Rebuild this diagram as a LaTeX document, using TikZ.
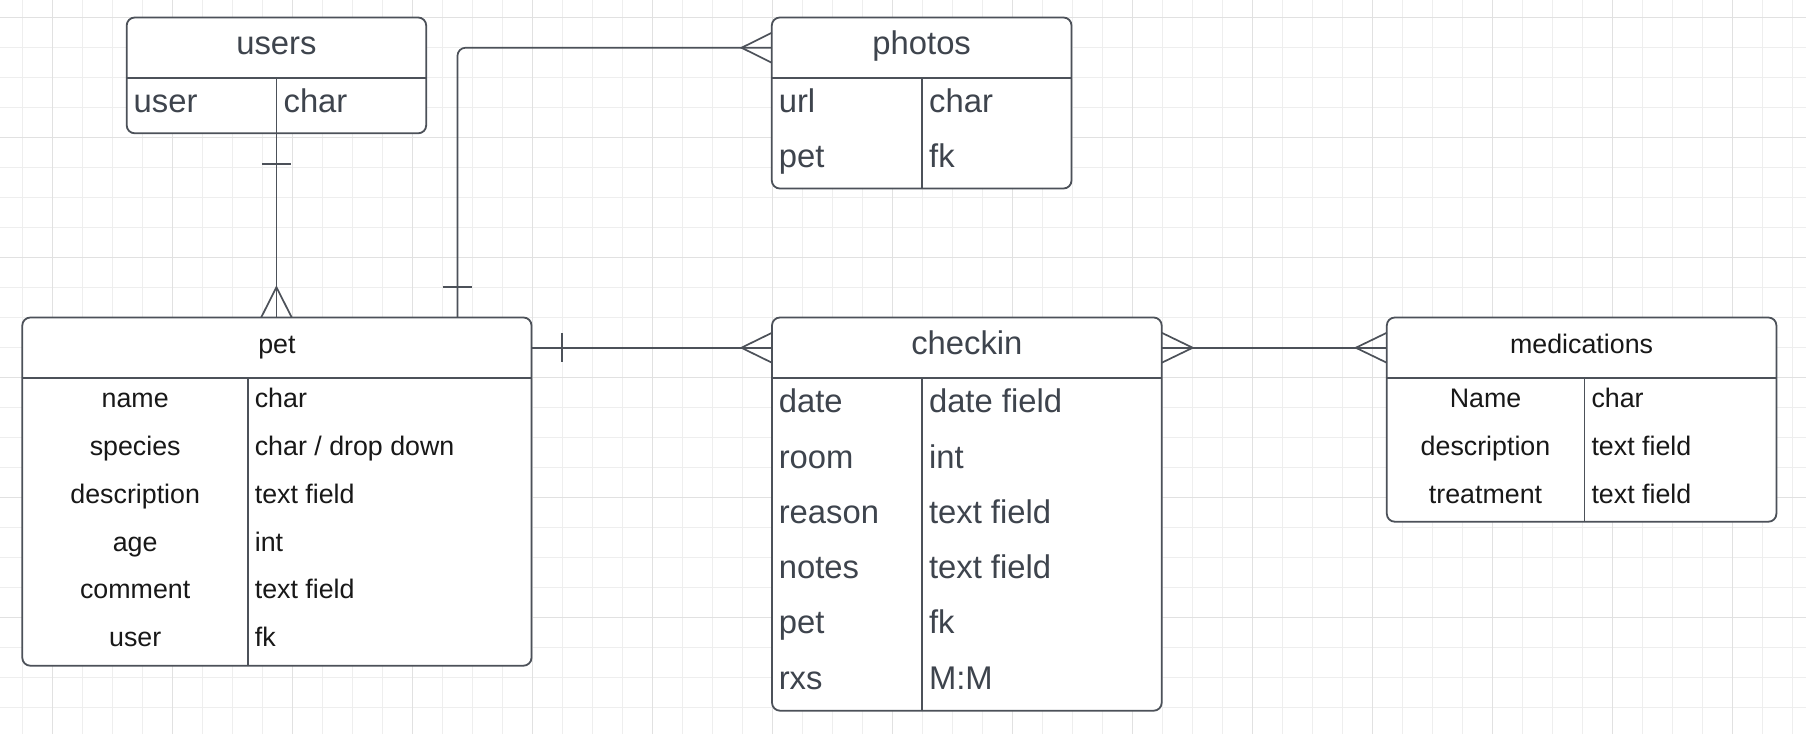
\documentclass[tikz,border=0pt]{standalone}
\usepackage{fontspec}
\setmainfont{Liberation Sans}
\usetikzlibrary{calc}
\definecolor{edge}{RGB}{76,81,89}
\definecolor{gtext}{RGB}{62,68,77}
\definecolor{btext}{RGB}{24,24,24}
\definecolor{gridminor}{RGB}{238,238,238}
\definecolor{gridmajor}{RGB}{225,225,225}
\tikzset{
  tbl/.style={draw=edge, line width=1.8, fill=white, rounded corners=8, inner sep=0, outer sep=0, anchor=north west},
  hdr/.style={inner sep=0, outer sep=0, anchor=north west, draw=none},
  sepline/.style={draw=edge, line width=1.6},
  conn/.style={draw=edge, line width=1.7},
  gtxt/.style={text=gtext, font=\fontsize{32.8}{39}\selectfont, inner sep=0, outer sep=0},
  btxt/.style={text=btext, font=\fontsize{26.8}{32}\selectfont, inner sep=0, outer sep=0},
}
\begin{document}
\begin{tikzpicture}[x=1pt,y=-1pt]
\fill[white] (0,0) rectangle (1806,734);
\useasboundingbox (0,0) rectangle (1806,734);
% grid
\foreach \gx in {0,...,59} {\draw[gridminor, line width=1] ({22.5+30*\gx},0) -- ({22.5+30*\gx},734);}
\foreach \gy in {0,...,24} {\draw[gridminor, line width=1] (0,{17.3+30*\gy}) -- (1806,{17.3+30*\gy});}
\foreach \gx in {0,...,14} {\draw[gridmajor, line width=1] ({52.5+120*\gx},0) -- ({52.5+120*\gx},734);}
\foreach \gy in {0,...,6} {\draw[gridmajor, line width=1] (0,{17.3+120*\gy}) -- (1806,{17.3+120*\gy});}

% ---------- boxes ----------
% users
\node[tbl, minimum width=299.5, minimum height=115.8] (users) at (126.7,17.5) {};
\node[hdr, minimum width=299.5, minimum height=60.5] (userstitle) at (126.7,17.5) {};
\coordinate (userscol) at (276.6,0);
% photos
\node[tbl, minimum width=299.7, minimum height=171] (photos) at (771.8,17.5) {};
\node[hdr, minimum width=299.7, minimum height=60.5] (photostitle) at (771.8,17.5) {};
\coordinate (photoscol) at (922.2,0);
% pet
\node[tbl, minimum width=509.2, minimum height=348.2] (pet) at (22.3,317.5) {};
\node[hdr, minimum width=509.2, minimum height=60.5] (pettitle) at (22.3,317.5) {};
\coordinate (petcol) at (248,0);
% checkin
\node[tbl, minimum width=389.7, minimum height=393.2] (checkin) at (772,317.5) {};
\node[hdr, minimum width=389.7, minimum height=60.5] (checkintitle) at (772,317.5) {};
\coordinate (checkincol) at (922,0);
% medications
\node[tbl, minimum width=389.6, minimum height=204.2] (med) at (1386.8,317.5) {};
\node[hdr, minimum width=389.6, minimum height=60.5] (medtitle) at (1386.8,317.5) {};
\coordinate (medcol) at (1584.3,0);

% dividers
\foreach \b in {users,photos,pet,checkin,med} {
  \draw[sepline] (\b title.south west) -- (\b title.south east);
  \draw[sepline] (\b title.south -| \b col) -- (\b.south -| \b col);
}

% ---------- connectors ----------
% users -> pet
\draw[conn] (users.south) -- (users.south |- pet.north);
\draw[conn] ($(users.south)+(-14.6,30.5)$) -- ($(users.south)+(14.6,30.5)$);
\draw[conn] ($(users.south |- pet.north)+(-15.3,0)$) -- ($(users.south |- pet.north)+(0,-30.3)$) -- ($(users.south |- pet.north)+(15.3,0)$);
% pet -> photos
\coordinate (pp) at ($(pet.north west)+(435.2,0)$);
\draw[conn, rounded corners=8] (pp) |- (photostitle.west);
\draw[conn] ($(pp)+(-14.6,-30.6)$) -- ($(pp)+(14.6,-30.6)$);
\draw[conn] ($(photostitle.west)+(0,-15)$) -- ($(photostitle.west)+(-30.2,0)$) -- ($(photostitle.west)+(0,15)$);
% pet -> checkin
\draw[conn] (pettitle.east) -- (checkintitle.west);
\draw[conn] ($(pettitle.east)+(30.6,-14.6)$) -- ($(pettitle.east)+(30.6,14.6)$);
\draw[conn] ($(checkintitle.west)+(0,-15)$) -- ($(checkintitle.west)+(-30.6,0)$) -- ($(checkintitle.west)+(0,15)$);
% checkin -> medications
\draw[conn] (checkintitle.east) -- (medtitle.west);
\draw[conn] ($(checkintitle.east)+(0,-15)$) -- ($(checkintitle.east)+(31,0)$) -- ($(checkintitle.east)+(0,15)$);
\draw[conn] ($(medtitle.west)+(0,-15)$) -- ($(medtitle.west)+(-31,0)$) -- ($(medtitle.west)+(0,15)$);

% ---------- texts ----------
% users
\node[gtxt, anchor=base] (t-users) at ($(userstitle.center)+(0,7.2)$) {users};
\node[gtxt, anchor=base west] (u-k1) at (133.7,112) {user};
\node[gtxt, anchor=base west] (u-v1) at (283.6,112) {char};
% photos
\node[gtxt, anchor=base] (t-photos) at ($(photostitle.center)+(0,7.2)$) {photos};
\node[gtxt, anchor=base west] (p-k1) at (778.8,112) {url};
\node[gtxt, anchor=base west] (p-v1) at (929.2,112) {char};
\node[gtxt, anchor=base west] (p-k2) at (778.8,167.5) {pet};
\node[gtxt, anchor=base west] (p-v2) at (929.2,167.5) {fk};
% checkin
\node[gtxt, anchor=base] (t-checkin) at ($(checkintitle.center)+(0,7.2)$) {checkin};
\foreach \k/\v [count=\i from 0] in {date/{date field}, room/int, reason/{text field}, notes/{text field}, pet/fk, rxs/{M:M}} {
  \node[gtxt, anchor=base west] (c-k\i) at (778.8,{412.7+55.3*\i}) {\k};
  \node[gtxt, anchor=base west] (c-v\i) at (929,{412.7+55.3*\i}) {\v};
}
% pet
\node[btxt, anchor=base] (t-pet) at ($(pettitle.center)+(0,5.7)$) {pet};
\foreach \k/\v [count=\i from 0] in {name/char, species/{char / drop down}, description/{text field}, age/int, comment/{text field}, user/fk} {
  \node[btxt, anchor=base] (e-k\i) at (135.2,{407.3+47.9*\i}) {\k};
  \node[btxt, anchor=base west] (e-v\i) at (254.8,{407.3+47.9*\i}) {\v};
}
% medications
\node[btxt, anchor=base] (t-med) at ($(medtitle.center)+(0,5.7)$) {medications};
\foreach \k/\v [count=\i from 0] in {Name/char, description/{text field}, treatment/{text field}} {
  \node[btxt, anchor=base] (m-k\i) at (1485.5,{407.3+47.9*\i}) {\k};
  \node[btxt, anchor=base west] (m-v\i) at (1591.5,{407.3+47.9*\i}) {\v};
}
\end{tikzpicture}
\end{document}
